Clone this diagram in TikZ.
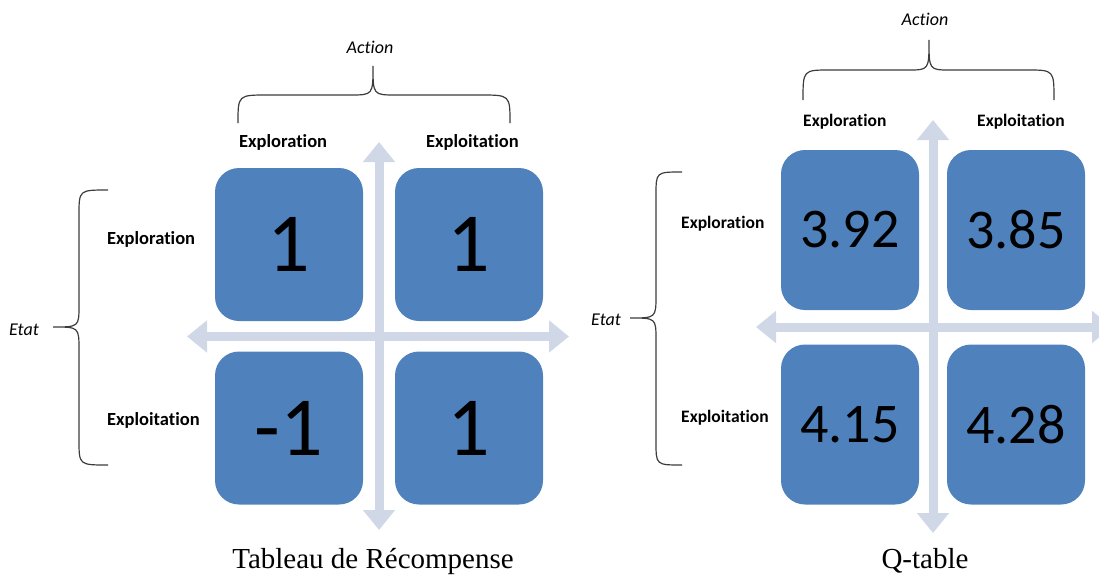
\documentclass[tikz,border=0pt]{standalone}
\usepackage{fontspec}
\setmainfont{Liberation Serif}
\newfontfamily\calibri[Ligatures=NoCommon]{Carlito}
\usetikzlibrary{arrows.meta}
\definecolor{cellblue}{RGB}{79,129,189}
\definecolor{axisgray}{RGB}{208,216,232}
\definecolor{bracegray}{RGB}{60,60,60}
\begin{document}
\begin{tikzpicture}[x=1pt,y=-1pt]
      \tikzstyle{cell}=[rectangle,fill=cellblue,rounded corners=24pt,inner sep=0pt]
      \tikzstyle{rcell}=[cell,minimum width=148pt,minimum height=153pt,
                         font=\calibri\fontsize{84}{90}\selectfont]
      \tikzstyle{qcell}=[cell,minimum width=138pt,minimum height=160pt,
                         font=\calibri\fontsize{56}{60}\selectfont]
      \tikzstyle{axis}=[draw=axisgray,line width=9pt,
                        arrows={Triangle[width=31pt,length=20pt]-Triangle[width=31pt,length=20pt]}]
      \tikzstyle{lab}=[inner sep=0pt,font=\calibri\bfseries\fontsize{18.5}{21}\selectfont]
      \tikzstyle{qlab}=[inner sep=0pt,font=\calibri\bfseries\fontsize{17.5}{20}\selectfont]
      \tikzstyle{ital}=[inner sep=0pt,font=\calibri\itshape\fontsize{18}{21}\selectfont]
      \tikzstyle{brace}=[draw=bracegray,line width=1.2pt]
      \tikzstyle{caption}=[inner sep=0pt,anchor=base,font=\fontsize{29}{32}\selectfont]

      \useasboundingbox (0,0) rectangle (1099,578);
      \clip (0,0) rectangle (1099,578);

      \coordinate (rN) at (379,142);
      \coordinate (rS) at (379,530);
      \coordinate (rW) at (187,336.5);
      \coordinate (rE) at (569,336.5);
      \draw[axis] (rN) -- (rS);
      \draw[axis] (rW) -- (rE);

      \node[rcell] (r11) at (289,244.5) {1};
      \node[rcell] (r12) at (469,244.5) {1};
      \node[rcell] (r21) at (289,428) {-1};
      \node[rcell] (r22) at (469,428) {1};

      \node[lab,anchor=base west] (ra1) at (239,147) {Exploration};
      \node[lab,anchor=base west] (ra2) at (426,147) {Exploitation};
      \node[lab,anchor=base west] (rs1) at (107,244) {Exploration};
      \node[lab,anchor=base west] (rs2) at (107,425) {Exploitation};
      \node[ital,anchor=base] (raction) at (370,53) {Action};
      \node[ital,anchor=base] (retat) at (24,335) {Etat};

      \draw[brace] (238,123) .. controls (238,95) .. (268,95) -- (350,95)
        .. controls (373,95) .. (373,66) .. controls (373,95) .. (396,95)
        -- (480,95) .. controls (510,95) .. (510,123);
      \draw[brace] (108,190) .. controls (79,190) .. (79,215) -- (79,305)
        .. controls (79,327) .. (53,327) .. controls (79,327) .. (79,350)
        -- (79,440) .. controls (79,465) .. (108,465);

      \coordinate (qN) at (933,120);
      \coordinate (qS) at (933,533);
      \coordinate (qW) at (756,327);
      \coordinate (qE) at (1112,327);
      \draw[axis] (qN) -- (qS);
      \draw[axis] (qW) -- (qE);

      \node[qcell] (q11) at (850,230) {3.92};
      \node[qcell] (q12) at (1016,230) {3.85};
      \node[qcell] (q21) at (850,424.5) {4.15};
      \node[qcell] (q22) at (1016,424.5) {4.28};

      \node[qlab,anchor=base west] (qa1) at (803,126) {Exploration};
      \node[qlab,anchor=base west] (qa2) at (977,126) {Exploitation};
      \node[qlab,anchor=base west] (qs1) at (681,228) {Exploration};
      \node[qlab,anchor=base west] (qs2) at (681,422) {Exploitation};
      \node[ital,anchor=base] (qaction) at (925,26) {Action};
      \node[ital,anchor=base] (qetat) at (606,325) {Etat};

      \draw[brace] (803,100) .. controls (803,70) .. (830,70) -- (908,70)
        .. controls (929,70) .. (929,40) .. controls (929,70) .. (950,70)
        -- (1027,70) .. controls (1054,70) .. (1054,100);
      \draw[brace] (682,172) .. controls (656,172) .. (656,195) -- (656,295)
        .. controls (656,318) .. (630,318) .. controls (656,318) .. (656,340)
        -- (656,442) .. controls (656,465) .. (682,465);

      \node[caption] (rcap) at (373,568) {Tableau de Récompense};
      \node[caption] (qcap) at (925,568) {Q-table};
\end{tikzpicture}
\end{document}
